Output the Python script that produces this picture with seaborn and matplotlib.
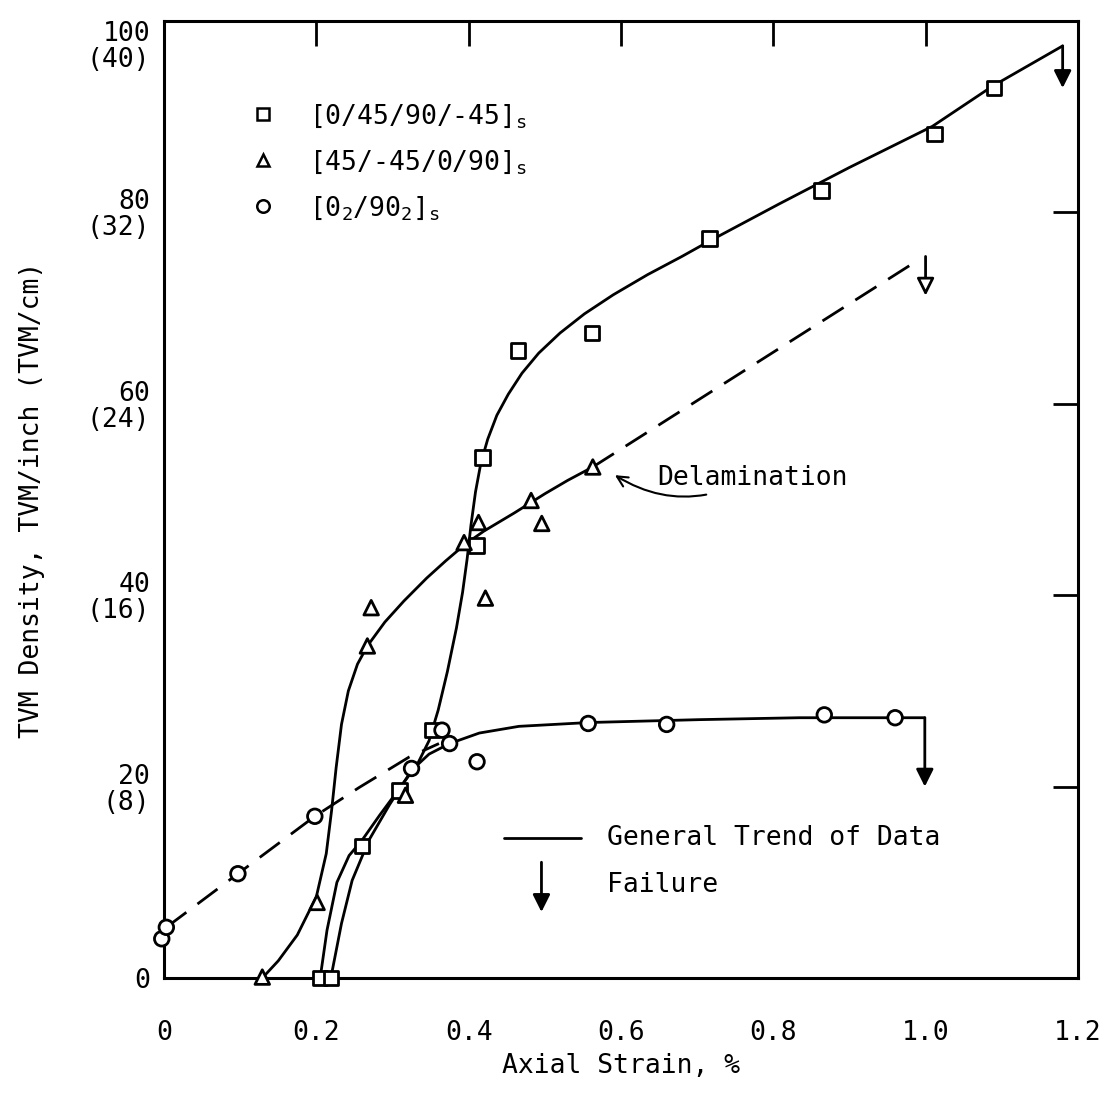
import matplotlib
matplotlib.use("Agg")
import matplotlib.pyplot as plt
import seaborn as sns
import pandas as pd
from matplotlib.lines import Line2D

# ---- measured points (axial strain %, TVM/inch) ----
sq_strain = [0.205, 0.219, 0.260, 0.309, 0.352, 0.410, 0.418, 0.465, 0.562, 0.716, 0.863, 1.012, 1.090]
sq_tvm = [0.0, 0.0, 13.8, 19.6, 25.9, 45.2, 54.4, 65.6, 67.4, 77.3, 82.3, 88.2, 93.0]

tri_strain = [0.129, 0.201, 0.317, 0.267, 0.272, 0.394, 0.413, 0.422, 0.482, 0.496, 0.563]
tri_tvm = [0.1, 7.9, 19.1, 34.7, 38.7, 45.5, 47.6, 39.7, 49.9, 47.5, 53.4]

cir_strain = [-0.003, 0.003, 0.097, 0.198, 0.325, 0.365, 0.375, 0.411, 0.557, 0.660, 0.867, 0.960]
cir_tvm = [4.1, 5.3, 10.9, 16.9, 21.9, 25.9, 24.5, 22.6, 26.6, 26.5, 27.5, 27.2]

# ---- general trend curves ----
sq_trend_x = [0.205, 0.214, 0.227, 0.243, 0.260, 0.283, 0.309, 0.333, 0.348, 0.360, 0.372, 0.384,
              0.392, 0.398, 0.403, 0.409, 0.416, 0.425, 0.437, 0.452, 0.470, 0.492, 0.520, 0.552,
              0.590, 0.635, 0.680, 0.716, 0.808, 0.900, 1.009, 1.088, 1.180]
sq_trend_y = [0.0, 5.0, 10.0, 12.8, 14.4, 17.0, 19.8, 22.4, 24.8, 28.0, 32.0, 36.6,
              40.3, 43.8, 47.3, 50.8, 53.8, 56.3, 58.8, 61.0, 63.2, 65.3, 67.4, 69.4,
              71.4, 73.5, 75.4, 77.0, 80.9, 84.7, 89.0, 93.2, 97.4]

cir_trend_x = [0.219, 0.233, 0.247, 0.269, 0.296, 0.325, 0.348, 0.375, 0.414, 0.466, 0.558, 0.703, 0.834, 0.999]
cir_trend_y = [0.0, 5.7, 10.2, 14.4, 18.1, 21.7, 23.4, 24.5, 25.6, 26.3, 26.7, 27.0, 27.2, 27.2]

tri_trend_x = [0.129, 0.150, 0.175, 0.200, 0.213, 0.220, 0.226, 0.233, 0.242, 0.254, 0.267, 0.290,
               0.315, 0.345, 0.370, 0.395, 0.420, 0.460, 0.500, 0.530, 0.563]
tri_trend_y = [0.0, 1.8, 4.5, 8.5, 13.0, 17.5, 22.0, 26.5, 30.0, 32.8, 34.7, 37.2,
               39.4, 41.8, 43.6, 45.3, 46.7, 48.6, 50.6, 52.0, 53.4]

# dashed extrapolations
cir_dash_x = [0.003, 0.097, 0.198, 0.256, 0.322, 0.361]
cir_dash_y = [5.3, 10.9, 16.9, 19.9, 23.1, 24.5]
tri_dash_x = [0.563, 0.982]
tri_dash_y = [53.4, 74.6]

# failure arrows: strain, start, end
fail_x = [1.180, 0.999, 1.000]
fail_top = [97.4, 27.2, 75.4]
fail_bot = [93.0, 20.0, 71.3]
fail_fill = ["black", "black", "white"]

labels = [r"[0/45/90/-45]$_\mathrm{s}$", r"[45/-45/0/90]$_\mathrm{s}$", r"[0$_2$/90$_2$]$_\mathrm{s}$"]
xticks = [0, 0.2, 0.4, 0.6, 0.8, 1.0, 1.2]
xticklabels = ["0", "0.2", "0.4", "0.6", "0.8", "1.0", "1.2"]
yticks = [0, 20, 40, 60, 80, 100]
yticklabels = ["0", "20\n(8)", "40\n(16)", "60\n(24)", "80\n(32)", "100\n(40)"]

sns.set_theme(style="white")
plt.rcParams["font.family"] = ["DejaVu Sans Mono"]
plt.rcParams["mathtext.fontset"] = "custom"
plt.rcParams["mathtext.rm"] = "DejaVu Sans Mono"
plt.rcParams["mathtext.it"] = "DejaVu Sans Mono"
for key in ["text.color", "axes.labelcolor", "xtick.color", "ytick.color"]:
    plt.rcParams[key] = "black"

fig = plt.figure(figsize=(11.01, 11.07), dpi=100)
ax = fig.add_axes([0.149, 0.1165, 0.830, 0.8645])

# trend lines
for tx, ty in [(sq_trend_x, sq_trend_y), (cir_trend_x, cir_trend_y), (tri_trend_x, tri_trend_y)]:
    sns.lineplot(x=tx, y=ty, sort=False, color="black", lw=2, ax=ax)
for dx, dy in [(cir_dash_x, cir_dash_y), (tri_dash_x, tri_dash_y)]:
    sns.lineplot(x=dx, y=dy, sort=False, color="black", lw=2, ax=ax, dashes=False,
                 linestyle=(0, (9, 5)))

# data markers
pts = pd.concat([
    pd.DataFrame({"strain": sq_strain, "tvm": sq_tvm, "layup": labels[0]}),
    pd.DataFrame({"strain": tri_strain, "tvm": tri_tvm, "layup": labels[1]}),
    pd.DataFrame({"strain": cir_strain, "tvm": cir_tvm, "layup": labels[2]}),
])
markers = {labels[0]: "s", labels[1]: "^", labels[2]: "o"}
sns.scatterplot(data=pts, x="strain", y="tvm", style="layup", markers=markers,
                s=110, facecolor="white", edgecolor="black", linewidth=2,
                legend=False, ax=ax, zorder=5, clip_on=False)

# failure arrows
for fx, ft, fb, fc in zip(fail_x, fail_top, fail_bot, fail_fill):
    ax.annotate("", xy=(fx, fb), xytext=(fx, ft),
                arrowprops=dict(arrowstyle="-|>", lw=2, ec="black", fc=fc, mutation_scale=26,
                                shrinkA=0, shrinkB=0))

# delamination note
ax.annotate("Delamination", xy=(0.589, 52.7), xytext=(0.647, 52.3), fontsize=19, va="center",
            arrowprops=dict(arrowstyle="->", lw=1.5, color="black", shrinkA=3, shrinkB=2,
                            connectionstyle="arc3,rad=-0.3"))

# layup legend
handles = [Line2D([], [], marker=markers[l], ls="none", mfc="none", mec="black", ms=9, mew=1.8)
           for l in labels]
ax.legend(handles, labels, loc="upper left", bbox_to_anchor=(0.068, 0.94), frameon=False,
          fontsize=19, handlelength=1.0, handletextpad=1.25, labelspacing=0.68)

# trend / failure key
ax.plot([0.372, 0.456], [0.146, 0.146], color="black", lw=2, transform=ax.transAxes)
ax.text(0.485, 0.146, "General Trend of Data", fontsize=19, va="center", transform=ax.transAxes)
ax.annotate("", xy=(0.413, 0.069), xytext=(0.413, 0.121), xycoords="axes fraction",
            arrowprops=dict(arrowstyle="-|>", lw=2, color="black", mutation_scale=26,
                            shrinkA=0, shrinkB=0))
ax.text(0.485, 0.097, "Failure", fontsize=19, va="center", transform=ax.transAxes)

ax.set_xlim(0, 1.2)
ax.set_ylim(0, 100)
ax.set_xticks(xticks)
ax.set_xticklabels(xticklabels)
ax.set_yticks(yticks)
ax.set_yticklabels(yticklabels, linespacing=1.0, ha="right")
ax.tick_params(direction="in", length=18, width=2, top=True, right=True, labelsize=19)
ax.tick_params(axis="x", pad=30)
ax.tick_params(axis="y", pad=10)
ax.get_yticklabels()[-1].set_va("top")
for sp in ax.spines.values():
    sp.set_linewidth(2.2)
    sp.set_color("black")

ax.set_xlabel("Axial Strain, %", fontsize=19, labelpad=5)
ax.set_ylabel("TVM Density, TVM/inch (TVM/cm)", fontsize=19, labelpad=30)

fig.savefig("out.png", dpi=100, facecolor="white")
